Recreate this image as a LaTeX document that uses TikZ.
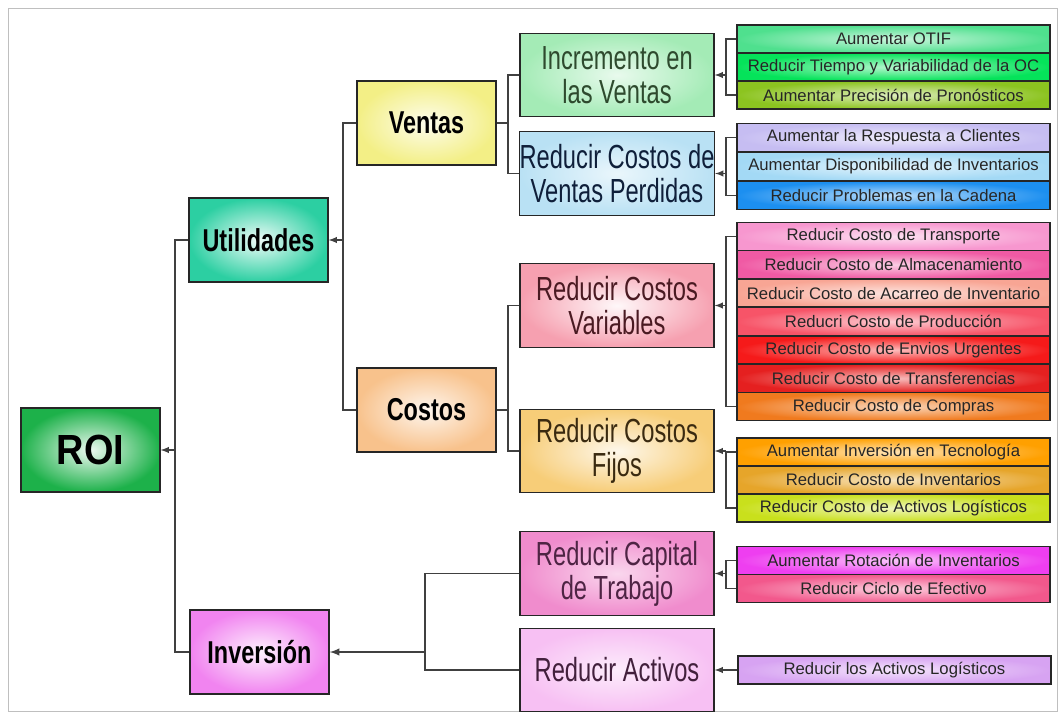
\documentclass[tikz,border=0pt]{standalone}
\usepackage{fontspec}
\setmainfont{Liberation Sans}
\newfontfamily\narrow[FakeStretch=0.71]{Liberation Sans}
\newfontfamily\wide[FakeStretch=0.74]{Liberation Sans}
\newfontfamily\roifont[FakeStretch=0.9]{Liberation Sans}
\usetikzlibrary{arrows}

\definecolor{roiG}{HTML}{1DB14A}
\definecolor{utilT}{HTML}{2CCFA2}
\definecolor{ventY}{HTML}{F3EF86}
\definecolor{costP}{HTML}{F8C28C}
\definecolor{invM}{HTML}{F184F0}
\definecolor{incG}{HTML}{A4EBB6}
\definecolor{perB}{HTML}{B9E1F4}
\definecolor{varR}{HTML}{F6A0B0}
\definecolor{fijO}{HTML}{F7CD78}
\definecolor{capM}{HTML}{F08CCD}
\definecolor{actM}{HTML}{F7C0F3}
\definecolor{incT}{HTML}{2E4A2E}
\definecolor{perT}{HTML}{0F1F3A}
\definecolor{varT}{HTML}{4A1A22}
\definecolor{fijT}{HTML}{3A2A10}
\definecolor{capT}{HTML}{4E2444}
\definecolor{actT}{HTML}{42203C}
% hojas
\definecolor{hA}{HTML}{4FE08E}
\definecolor{hB}{HTML}{05E35A}
\definecolor{hC}{HTML}{8CC420}
\definecolor{hD}{HTML}{C6BDF2}
\definecolor{hE}{HTML}{A3D9F5}
\definecolor{hF}{HTML}{1C8FF0}
\definecolor{hG}{HTML}{F797CF}
\definecolor{hH}{HTML}{F05AA4}
\definecolor{hI}{HTML}{F8A594}
\definecolor{hJ}{HTML}{F75468}
\definecolor{hK}{HTML}{F51A1A}
\definecolor{hL}{HTML}{E52020}
\definecolor{hM}{HTML}{F07A1E}
\definecolor{hN}{HTML}{FFA000}
\definecolor{hO}{HTML}{E6A52A}
\definecolor{hP}{HTML}{C9E01C}
\definecolor{hQ}{HTML}{EE3EF0}
\definecolor{hR}{HTML}{F2588C}
\definecolor{hS}{HTML}{D7A3F2}

\begin{document}
\begin{tikzpicture}[>=latex, x=0.02cm, y=-0.02cm,
  link/.style={draw=black!75, line width=0.6pt},
  big/.style={draw=black!85, line width=0.8pt, minimum width=2.78cm, minimum height=1.68cm,
    font=\wide\fontsize{18}{20}\selectfont\bfseries},
  mid/.style={draw=black!85, line width=0.8pt, minimum width=3.88cm, minimum height=1.67cm,
    inner sep=0pt, align=center, font=\narrow\fontsize{19}{19.5}\selectfont},
  leaf/.style={draw=black!85, line width=0.7pt, minimum width=6.26cm, minimum height=0.56cm,
    inner sep=0pt, text=black!85, font=\fontsize{9.5}{10}\selectfont}]
\useasboundingbox (0,0) rectangle (1060,715);
\fill[white] (0,0) rectangle (1060,715);
\draw[black!25, line width=0.5pt] (8,8) rectangle (1057,711);

% nivel 1 y 2
\node[big, inner color=roiG!8!white, outer color=roiG, font=\roifont\fontsize{24}{26}\selectfont\bfseries] (roi) at (90.5,450) {ROI};
\node[big, inner color=utilT!8!white, outer color=utilT] (util) at (258.5,240) {Utilidades};
\node[big, inner color=invM!12!white, outer color=invM] (inv) at (259.5,652) {Inversión};
\node[big, inner color=ventY!15!white, outer color=ventY] (vent) at (426.5,123) {Ventas};
\node[big, inner color=costP!15!white, outer color=costP] (cost) at (426.5,410) {Costos};

% nivel 3
\node[mid, inner color=incG!25!white, outer color=incG, text=incT] (incr) at (617,75) {Incremento en\\las Ventas};
\node[mid, inner color=perB!30!white, outer color=perB, text=perT] (perd) at (617,173.5) {Reducir Costos de\\Ventas Perdidas};
\node[mid, inner color=varR!8!white, outer color=varR, text=varT] (var) at (617,305.5) {Reducir Costos\\Variables};
\node[mid, inner color=fijO!15!white, outer color=fijO, text=fijT] (fij) at (617,451) {Reducir Costos\\Fijos};
\node[mid, inner color=capM!35!white, outer color=capM, text=capT] (cap) at (617,573.5) {Reducir Capital\\de Trabajo};
\node[mid, inner color=actM!30!white, outer color=actM, text=actT] (act) at (617,670) {Reducir Activos};

% hojas
\foreach \txt/\col [count=\i] in {Aumentar OTIF/hA, Reducir Tiempo y Variabilidad de la OC/hB,
    Aumentar Precisión de Pronósticos/hC}
  \node[leaf, inner color=\col!30!white, outer color=\col] (a\i) at (893.5,25+28*\i-14) {\txt};
\foreach \txt/\col [count=\i] in {Aumentar la Respuesta a Clientes/hD, Aumentar Disponibilidad de Inventarios/hE,
    Reducir Problemas en la Cadena/hF}
  \node[leaf, inner color=\col!30!white, outer color=\col] (b\i) at (893.5,123+29*\i-14.5) {\txt};
\foreach \txt/\col [count=\i] in {Reducir Costo de Transporte/hG, Reducir Costo de Almacenamiento/hH,
    Reducir Costo de Acarreo de Inventario/hI, Reducri Costo de Producción/hJ,
    Reducir Costo de Envios Urgentes/hK, Reducir Costo de Transferencias/hL, Reducir Costo de Compras/hM}
  \node[leaf, inner color=\col!30!white, outer color=\col] (c\i) at (893.5,222+28.43*\i-14.2) {\txt};
\foreach \txt/\col [count=\i] in {Aumentar Inversión en Tecnología/hN, Reducir Costo de Inventarios/hO,
    Reducir Costo de Activos Logísticos/hP}
  \node[leaf, inner color=\col!30!white, outer color=\col] (d\i) at (893.5,438+28*\i-14) {\txt};
\foreach \txt/\col [count=\i] in {Aumentar Rotación de Inventarios/hQ, Reducir Ciclo de Efectivo/hR}
  \node[leaf, inner color=\col!30!white, outer color=\col] (e\i) at (893.5,546+28.5*\i-14.2) {\txt};
\node[leaf, inner color=hS!30!white, outer color=hS] (f1) at (894.5,670) {Reducir los Activos Logísticos};

% uniones
\coordinate (j0) at (175,450);
\coordinate (j1) at (343,240);
\coordinate (j2) at (508,123);
\coordinate (j3) at (508,410);
\coordinate (j4) at (425,652);
\coordinate (k1) at (726,75);
\coordinate (k2) at (726,173.5);
\coordinate (k3) at (726,305.5);
\coordinate (k4) at (726,451);
\coordinate (k5) at (726,573.5);

\draw[link] (util.west) -| (j0) |- (inv.west);
\draw[link,<-] (roi.east) -- (j0);
\draw[link] (vent.west) -| (j1) |- (cost.west);
\draw[link,<-] (util.east) -- (j1);
\draw[link] (incr.west) -| (j2) |- (perd.west);
\draw[link] (vent.east) -- (j2);
\draw[link] (var.west) -| (j3) |- (fij.west);
\draw[link] (cost.east) -- (j3);
\draw[link] (cap.west) -| (j4) |- (act.west);
\draw[link,<-,line width=0.9pt] (inv.east) -- (j4);

\draw[link] (a1.west) -| (k1) |- (a3.west);
\draw[link,<-] (incr.east) -- (k1);
\draw[link] (b1.west) -| (k2) |- (b3.west);
\draw[link,<-] (perd.east) -- (k2);
\draw[link] (c1.west) -| (k3) |- (c7.west);
\draw[link,<-] (var.east) -- (k3);
\draw[link] (d1.west) -| (k4) |- (d3.west);
\draw[link,<-] (fij.east) -- (k4);
\draw[link] (e1.west) -| (k5) |- (e2.west);
\draw[link,<-] (cap.east) -- (k5);
\draw[link,<-] (act.east) -- (f1.west);
\end{tikzpicture}
\end{document}
